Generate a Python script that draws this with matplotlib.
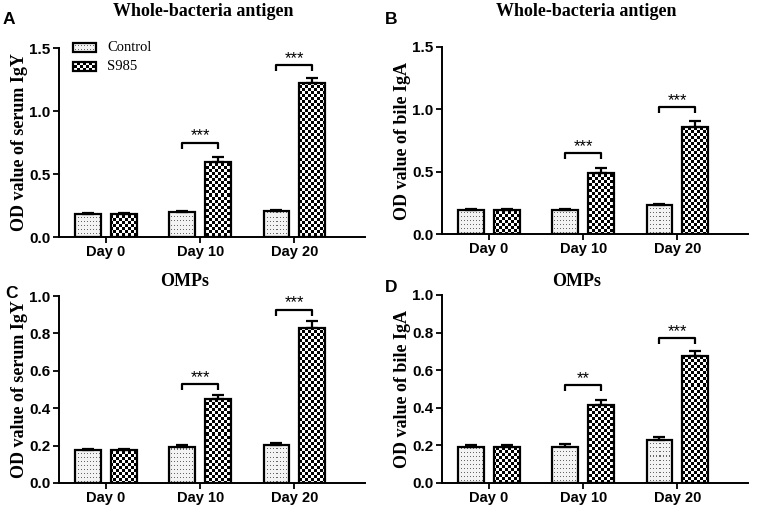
import numpy as np
import matplotlib
matplotlib.use('Agg')
import matplotlib.pyplot as plt
from matplotlib.patches import Rectangle

plt.rcParams['font.family'] = ['Liberation Sans', 'DejaVu Sans']

FW, FH = 757, 522

days = ['Day 0', 'Day 10', 'Day 20']

# panel A - whole bacteria, serum IgY
a_ctrl = [0.18, 0.20, 0.21]
a_ctrl_err = [0.008, 0.008, 0.008]
a_s985 = [0.18, 0.597, 1.225]
a_s985_err = [0.008, 0.04, 0.035]
a_stars = ['', '***', '***']
a_brk = [None, 0.75, 1.367]

# panel B - whole bacteria, bile IgA
b_ctrl = [0.19, 0.19, 0.23]
b_ctrl_err = [0.01, 0.012, 0.012]
b_s985 = [0.19, 0.49, 0.855]
b_s985_err = [0.01, 0.04, 0.05]
b_stars = ['', '***', '***']
b_brk = [None, 0.647, 1.015]

# panel C - OMPs, serum IgY
c_ctrl = [0.175, 0.195, 0.205]
c_ctrl_err = [0.006, 0.006, 0.008]
c_s985 = [0.175, 0.45, 0.83]
c_s985_err = [0.005, 0.022, 0.035]
c_stars = ['', '***', '***']
c_brk = [None, 0.531, 0.927]

# panel D - OMPs, bile IgA
d_ctrl = [0.19, 0.193, 0.23]
d_ctrl_err = [0.012, 0.015, 0.013]
d_s985 = [0.19, 0.414, 0.678]
d_s985_err = [0.012, 0.03, 0.025]
d_stars = ['', '**', '***']
d_brk = [None, 0.519, 0.769]


def make_tex(kind, h, w):
    r, c = np.mgrid[0:h, 0:w]
    if kind == 'check':
        return ((r // 3 + c // 3) % 2).astype(float)
    t = np.full((h, w), 0.95)
    t[(r % 4 == 1) & (c % 3 == 1)] = 0.4
    return t


def fill(ax, patch, kind):
    # texture covering the axes (plus a bit above), clipped to the patch
    x0, x1 = ax.get_xlim()
    y0, y1 = ax.get_ylim()
    bb = ax.get_position()
    w = int(round(bb.width * FW))
    h = int(round(bb.height * FH * 1.15))
    im = ax.imshow(make_tex(kind, h, w), extent=(x0, x1, y0, y1 + 0.15 * (y1 - y0)),
                   origin='upper', aspect='auto', cmap='gray', vmin=0, vmax=1,
                   interpolation='nearest', zorder=2)
    im.set_clip_path(patch)


def panel(box, ctrl, ctrl_err, s985, s985_err, stars, brk, ymax, step, ylabel, labx):
    l, r, t, b = box
    ax = fig.add_axes([l / FW, 1 - b / FH, (r - l) / FW, (b - t) / FH])
    ax.set_xlim(-0.5, 2.75)
    ax.set_ylim(0, ymax)
    x = np.arange(len(days))
    off, bw = 0.19, 0.275
    bc = ax.bar(x - off, ctrl, bw, facecolor='none', edgecolor='black', linewidth=1.6, zorder=3)
    bs = ax.bar(x + off, s985, bw, facecolor='none', edgecolor='black', linewidth=1.6, zorder=3)
    for p in bc:
        fill(ax, p, 'dots')
    for p in bs:
        fill(ax, p, 'check')
    zeros = np.zeros(len(days))
    ax.errorbar(x - off, ctrl, yerr=[zeros, ctrl_err], fmt='none', ecolor='black',
                elinewidth=1.6, capsize=4, capthick=1.6, zorder=4)
    ax.errorbar(x + off, s985, yerr=[zeros, s985_err], fmt='none', ecolor='black',
                elinewidth=1.6, capsize=4, capthick=1.6, zorder=4)
    leg = 0.032 * ymax
    for i in range(len(days)):
        if brk[i] is None:
            continue
        ax.plot([x[i] - off, x[i] - off, x[i] + off, x[i] + off],
                [brk[i] - leg, brk[i], brk[i], brk[i] - leg],
                color='black', lw=1.6, solid_capstyle='butt', zorder=4)
        ax.text(x[i], brk[i] - 0.005 * ymax, stars[i], ha='center', va='bottom', fontsize=12)
    ax.set_xticks(x)
    ax.set_xticklabels(days, fontsize=10.5, fontweight='bold')
    ax.set_yticks(np.arange(0, ymax + 1e-9, step))
    ax.set_yticklabels(['%.1f' % v for v in np.arange(0, ymax + 1e-9, step)],
                       fontsize=11, fontweight='bold')
    ax.tick_params(direction='out', length=4, width=1.3, pad=2)
    for s in ['top', 'right']:
        ax.spines[s].set_visible(False)
    for s in ['left', 'bottom']:
        ax.spines[s].set_linewidth(1.4)
    ax.set_ylabel(ylabel, family='Liberation Serif', fontsize=13, fontweight='bold')
    ax.yaxis.set_label_coords(labx, 0.5)
    ax.set_xlim(-0.5, 2.75)
    ax.set_ylim(0, ymax)
    return ax


fig = plt.figure(figsize=(FW / 100, FH / 100), dpi=100)

ax_a = panel((59, 365, 48, 237), a_ctrl, a_ctrl_err, a_s985, a_s985_err, a_stars, a_brk,
             1.5, 0.5, 'OD value of serum IgY', -0.1)
ax_b = panel((442, 748, 47, 234), b_ctrl, b_ctrl_err, b_s985, b_s985_err, b_stars, b_brk,
             1.5, 0.5, 'OD value of bile IgA', -0.1)
ax_c = panel((59, 365, 296, 483), c_ctrl, c_ctrl_err, c_s985, c_s985_err, c_stars, c_brk,
             1.0, 0.2, 'OD value of serum IgY', -0.1)
ax_d = panel((442, 748, 295, 483), d_ctrl, d_ctrl_err, d_s985, d_s985_err, d_stars, d_brk,
             1.0, 0.2, 'OD value of bile IgA', -0.1)

# legend in panel A, swatches drawn with the same textures
for label, kind, ytop in [('Control', 'dots', 43), ('S985', 'check', 62)]:
    sw = Rectangle((73 / FW, 1 - (ytop + 9) / FH), 23 / FW, 9 / FH, transform=fig.transFigure,
                   facecolor='none', edgecolor='black', linewidth=1.6, clip_on=False, zorder=3)
    ax_a.add_patch(sw)
    fill(ax_a, sw, kind)
    fig.text(107 / FW, 1 - (ytop + 4.5) / FH, label, family='Liberation Serif', fontsize=10.5,
             ha='left', va='center')

# titles and panel letters
for txt, xp, yp in [('Whole-bacteria antigen', 203, 11), ('Whole-bacteria antigen', 586, 12),
                    ('OMPs', 185, 282), ('OMPs', 577, 281)]:
    fig.text(xp / FW, 1 - yp / FH, txt, family='Liberation Serif', fontsize=13,
             fontweight='bold', ha='center', va='center')
for txt, xp, yp in [('A', 3, 20), ('B', 385, 20), ('C', 5, 293), ('D', 385, 288)]:
    fig.text(xp / FW, 1 - yp / FH, txt, fontsize=12.5, fontweight='bold', ha='left', va='center')

fig.savefig('out.png', dpi=100)
